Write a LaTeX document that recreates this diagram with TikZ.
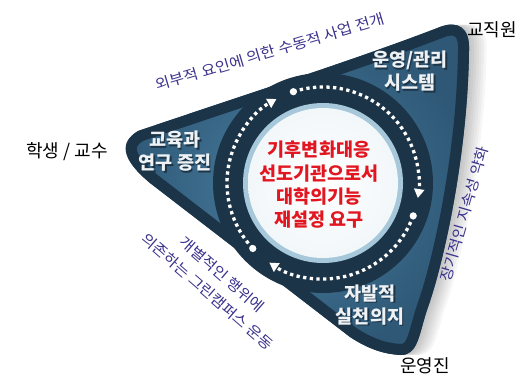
\documentclass[tikz,border=0pt]{standalone}
\usepackage{fontspec}
\newfontfamily\kr{Noto Sans CJK KR}
\newfontfamily\krs[FakeStretch=1.1]{Noto Sans CJK KR}
\usetikzlibrary{arrows.meta,calc}
\definecolor{navy}{RGB}{28,52,72}
\definecolor{midin}{RGB}{74,126,160}
\definecolor{midout}{RGB}{46,88,118}
\definecolor{ringblue}{RGB}{166,200,218}
\definecolor{redtxt}{RGB}{226,22,32}
\definecolor{purp}{RGB}{58,50,140}
\definecolor{whitetxt}{RGB}{238,242,245}
\def\tripath{(138,131) .. controls (250,93) and (360,58) .. (440,27) .. controls (458,20) and (470,28) .. (469,50) .. controls (468,150) and (445,260) .. (427,310) .. controls (419,334) and (418,356) .. (400,355) .. controls (385,354) and (370,350) .. (350,337) -- (150,183) .. controls (120,158) and (120,142) .. (138,131) -- cycle}
\tikzset{
  dotarc/.style={white, line width=3.3pt, dash pattern=on 3.3pt off 3.4pt, -{Triangle[length=9pt,width=10pt]}},
  blacklab/.style={font=\kr\fontsize{18}{22}\selectfont, text=black},
  intext/.style={font=\kr\bfseries\fontsize{18.5}{23}\selectfont, align=center, text=whitetxt},
  inshadow/.style={intext, text=navy},
  purptext/.style={font=\krs\fontsize{14.5}{22.5}\selectfont, text=purp, align=center},
  coretext/.style={font=\kr\bfseries\fontsize{18.5}{23.3}\selectfont, text=redtxt, align=center}
}
\begin{document}
\begin{tikzpicture}[x=1pt,y=-1pt]
\useasboundingbox (0,0) rectangle (526,383);
% soft shadow on the right
\foreach \i in {1,...,7} {
  \fill[black,opacity=0.035,shift={(2.5*\i,0)}] \tripath;
}
% triangle body with border
\begin{scope}
  \clip \tripath;
  \shade[inner color=midin, outer color=midout] \tripath;
  \draw[navy,line width=22pt] \tripath;
\end{scope}
% central ring and disc
\coordinate (c) at (323,183);
\fill[navy] (c) circle[radius=110];
\fill[ringblue] (c) circle[radius=80];
\shade[inner color=white, outer color=white!85!ringblue] (c) circle[radius=75];
% dotted arrows
\draw[dotarc] ($(c)+(252:96)$) arc[start angle=252,end angle=369,radius=96];
\draw[dotarc] ($(c)+(20:96)$) arc[start angle=20,end angle=124,radius=96];
\draw[dotarc] ($(c)+(137:96)$) arc[start angle=137,end angle=241,radius=96];
\fill[white] ($(c)+(252:96)$) circle[radius=3.6];
\fill[white] ($(c)+(20:96)$) circle[radius=3.6];
\fill[white] ($(c)+(137:96)$) circle[radius=3.6];
% center text
\node[coretext] (core) at (319,185) {기후변화대응\\선도기관으로서\\대학의기능\\재설정 요구};
% inner labels with shadow
\node[inshadow] (s1) at (411.5,73) {운영/관리\\시스템};
\node[intext] (t1) at (410,71.5) {운영/관리\\시스템};
\node[inshadow] (s2) at (176.5,153) {교육과\\연구 증진};
\node[intext] (t2) at (175,151.5) {교육과\\연구 증진};
\node[inshadow] (s3) at (371.5,306.5) {자발적\\실천의지};
\node[intext] (t3) at (370,305) {자발적\\실천의지};
% outer labels
\node[blacklab] (staff) at (492,30) {교직원};
\node[blacklab] (stud) at (67,152) {학생 / 교수};
\node[blacklab] (mgmt) at (425,366) {운영진};
% purple side texts
\node[purptext, rotate=16.5] (topt) at (270,52) {외부적 요인에 의한 수동적 사업 전개};
\node[purptext, rotate=74] (rightt) at (464,214) {장기적인 지속성 약화};
\node[purptext, rotate=-41] (leftt) at (215,283) {개별적인 행위에\\의존하는 그린캠퍼스 운동};
\end{tikzpicture}
\end{document}
